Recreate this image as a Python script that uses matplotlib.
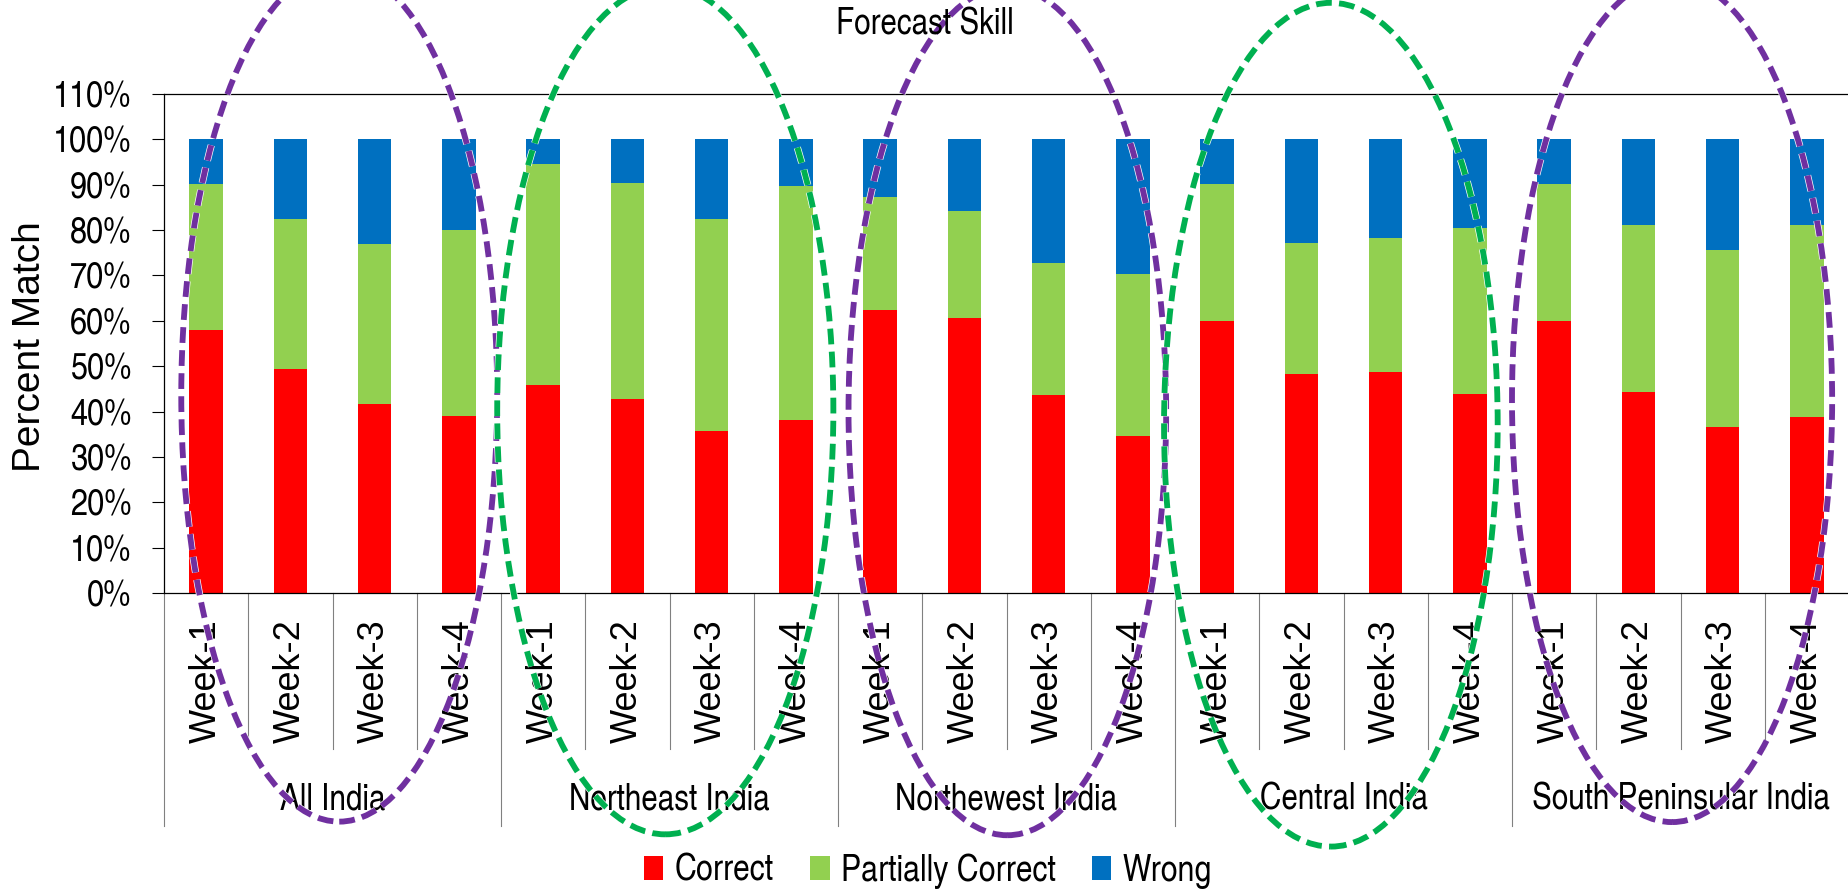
import matplotlib
matplotlib.use("Agg")
import matplotlib.pyplot as plt
import matplotlib.patheffects as pe
from matplotlib.patches import Ellipse

regions = ["All India", "Northeast India", "Northewest India", "Central India", "South Peninsular India"]
weeks = ["Week-1", "Week-2", "Week-3", "Week-4"]

# percent of forecasts per category, 4 weeks per region
correct = [57.9, 49.3, 41.7, 39.0, 45.9, 42.8, 35.7, 38.2, 62.3, 60.6,
           43.7, 34.6, 59.9, 48.3, 48.8, 43.9, 59.9, 44.4, 36.6, 38.8]
partial = [32.3, 33.2, 35.2, 41.1, 48.6, 47.6, 46.8, 51.6, 24.9, 23.5,
           29.1, 35.7, 30.2, 28.9, 29.5, 36.6, 30.2, 36.8, 39.1, 42.4]
wrong = [9.8, 17.5, 23.1, 19.9, 5.5, 9.6, 17.5, 10.2, 12.8, 15.9,
         27.2, 29.7, 9.9, 22.8, 21.7, 19.5, 9.9, 18.8, 24.3, 18.8]

# highlight rings around each region (category units / percent)
ring_x = [1.58, 5.45, 9.51, 13.35, 17.40]
ring_y = [43.6, 40.3, 40.1, 37.1, 42.5]
ring_w = [3.75, 3.99, 3.77, 3.96, 3.80]
ring_h = [188, 187, 187, 186, 186]
ring_colors = ["#7030A0", "#00B050", "#7030A0", "#00B050", "#7030A0"]

narrow = ["TeX Gyre Heros Cn", "Liberation Sans", "DejaVu Sans"]
regular = ["Liberation Sans", "DejaVu Sans"]

W, H = 1849, 889
fig = plt.figure(figsize=(W / 100, H / 100), dpi=100)
ax = fig.add_axes([164 / W, 1 - 593 / H, 1 - 164 / W, (593 - 94) / H])

x = list(range(len(correct)))
tops = [c + p for c, p in zip(correct, partial)]
b1 = ax.bar(x, correct, width=0.4, color="#FF0000", label="Correct")
b2 = ax.bar(x, partial, width=0.4, bottom=correct, color="#92D050", label="Partially Correct")
b3 = ax.bar(x, wrong, width=0.4, bottom=tops, color="#0070C0", label="Wrong")

ax.set_xlim(-0.5, len(x) - 0.5)
ax.set_ylim(0, 110)
yt = list(range(0, 111, 10))
ax.set_yticks(yt, labels=[f"{v}%" for v in yt], fontsize=27, family=narrow)
ax.tick_params(axis="y", direction="out", length=8.5, width=0.8, pad=15)
ax.set_xticks(x, labels=weeks * len(regions), rotation=90, fontsize=26, family=regular)
ax.tick_params(axis="x", length=0, pad=19)

ax.spines["right"].set_visible(False)
for s in ("left", "top", "bottom"):
    ax.spines[s].set_linewidth(0.9)
    ax.spines[s].set_color("black")

# two-level category axis: week dividers and region dividers
xt = ax.get_xaxis_transform()
for b in range(len(x) + 1):
    depth = -0.467 if b % 4 == 0 else -0.313
    ax.plot([b - 0.5, b - 0.5], [0, depth], transform=xt, color="#808080",
            lw=0.8, clip_on=False)
for k, name in enumerate(regions):
    ax.text(4 * k + 1.5, -0.415, name, transform=xt, ha="center", va="center",
            fontsize=26, family=narrow)

halo = [pe.Stroke(linewidth=5.2, foreground="white"), pe.Normal()]
for cx, cy, w, h, c in zip(ring_x, ring_y, ring_w, ring_h, ring_colors):
    ax.add_patch(Ellipse((cx, cy), w, h, fill=False, edgecolor=c, lw=4.2,
                         linestyle=(0, (2.7, 1.25)), clip_on=False, zorder=10,
                         path_effects=halo))

fig.text(0.5, 1 - 25 / H, "Forecast Skill", ha="center", va="center",
         fontsize=26, family=narrow)
fig.text(30 / W, 1 - 347 / H, "Percent Match", rotation=90, ha="center",
         va="center", fontsize=28, family=regular)

fig.legend(handles=[b1, b2, b3], loc="center", bbox_to_anchor=(928 / W, 1 - 871 / H),
           ncol=3, frameon=False, prop=dict(family=narrow, size=26.5),
           handlelength=0.52, handleheight=0.65, handletextpad=0.3,
           columnspacing=1.0, borderpad=0)

fig.savefig("out.png", dpi=100)
plt.close(fig)
